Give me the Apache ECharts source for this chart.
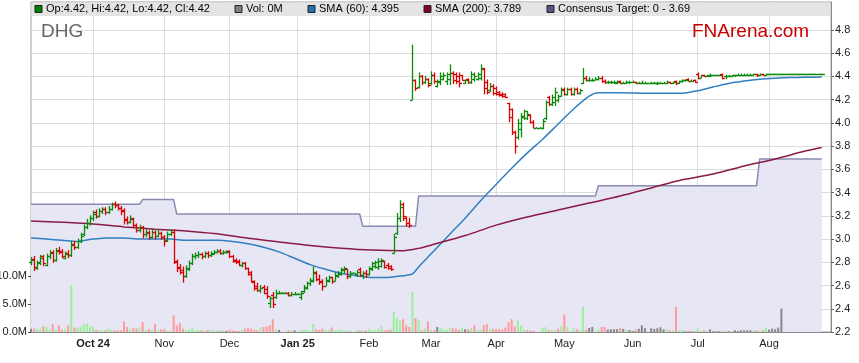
<!DOCTYPE html>
<html><head><meta charset="utf-8">
<script src="https://cdn.jsdelivr.net/npm/echarts@6/dist/echarts.min.js"></script>
<style>html,body{margin:0;padding:0;background:#fff}#c{width:859px;height:363px}</style>
</head><body><div id="c"></div>
<script>
// ---------- DATA ----------
const monthStarts = [20,43,64,86,109,129,150,172,194,215,238];
const monthLabels = ['Oct 24','Nov','Dec','Jan 25','Feb','Mar','Apr','May','Jun','Jul','Aug'];
const boldLabels = ['Oct 24','Jan 25'];
const priceTicks = [2.2,2.4,2.6,2.8,3.0,3.2,3.4,3.6,3.8,4.0,4.2,4.4,4.6,4.8];
const volumeTicks = [0,5,10];

const open = [
2.80,2.83,2.75,2.79,2.85,2.78,2.85,2.89,2.82,2.91,
2.90,2.84,2.88,2.86,2.96,2.93,2.98,3.04,3.10,3.14,
3.18,3.23,3.20,3.24,3.26,3.23,3.26,3.30,3.29,3.27,
3.25,3.17,3.15,3.17,3.12,3.08,3.10,3.04,3.06,3.02,
3.06,3.03,3.05,3.02,2.99,3.04,3.06,2.81,2.76,2.73,
2.68,2.74,2.79,2.85,2.86,2.87,2.85,2.88,2.86,2.88,
2.89,2.90,2.88,2.89,2.90,2.85,2.82,2.81,2.78,2.79,
2.75,2.72,2.63,2.60,2.56,2.59,2.57,2.45,2.52,2.50,
2.54,2.54,2.54,2.54,2.52,2.53,2.53,2.50,2.55,2.58,
2.62,2.64,2.71,2.66,2.64,2.60,2.64,2.67,2.64,2.68,
2.70,2.73,2.74,2.68,2.71,2.70,2.74,2.69,2.71,2.70,
2.74,2.77,2.76,2.77,2.81,2.78,2.77,2.88,3.05,3.18,
3.30,3.18,3.14,4.20,4.37,4.31,4.40,4.35,4.38,4.34,
4.41,4.32,4.35,4.38,4.36,4.38,4.43,4.42,4.40,4.41,
4.34,4.38,4.35,4.38,4.38,4.39,4.46,4.35,4.28,4.32,
4.30,4.27,4.25,4.25,4.17,4.12,3.92,3.88,3.95,4.05,
4.04,4.07,4.01,3.96,3.96,3.96,4.04,4.22,4.16,4.18,
4.20,4.23,4.29,4.25,4.29,4.25,4.29,4.26,4.34,4.39,
4.37,4.37,4.37,4.38,4.39,4.36,4.35,4.35,4.35,4.34,
4.36,4.34,4.34,4.35,4.35,4.35,4.34,4.34,4.34,4.34,
4.34,4.34,4.34,4.34,4.34,4.34,4.35,4.34,4.36,4.34,
4.36,4.37,4.38,4.36,4.37,4.42,4.39,4.41,4.40,4.40,
4.41,4.41,4.41,4.42,4.40,4.40,4.40,4.41,4.41,4.41,
4.41,4.41,4.41,4.41,4.42,4.41,4.42,4.41,4.42,4.42,
4.42,4.42,4.42,4.42,4.42,4.42,4.42,4.42,4.42,4.42,
4.42,4.42,4.42,4.42,4.42,4.42];
const high = [
2.84,2.85,2.81,2.86,2.86,2.87,2.90,2.90,2.92,2.93,
2.91,2.89,2.90,2.98,2.98,3.00,3.05,3.12,3.17,3.20,
3.24,3.25,3.26,3.27,3.27,3.28,3.31,3.32,3.30,3.28,
3.26,3.19,3.20,3.18,3.13,3.12,3.11,3.08,3.07,3.08,
3.07,3.07,3.06,3.03,3.06,3.08,3.08,2.82,2.78,2.76,
2.77,2.81,2.87,2.88,2.89,2.88,2.89,2.89,2.89,2.90,
2.91,2.91,2.90,2.90,2.90,2.86,2.83,2.82,2.80,2.80,
2.75,2.72,2.64,2.62,2.60,2.60,2.59,2.50,2.54,2.56,
2.55,2.54,2.54,2.54,2.54,2.54,2.53,2.55,2.60,2.63,
2.66,2.76,2.72,2.69,2.65,2.67,2.68,2.67,2.71,2.72,
2.75,2.76,2.74,2.72,2.71,2.73,2.75,2.72,2.73,2.76,
2.80,2.81,2.83,2.83,2.81,2.79,2.77,3.04,3.22,3.33,
3.31,3.19,3.18,4.67,4.37,4.43,4.41,4.40,4.38,4.44,
4.43,4.37,4.43,4.43,4.43,4.50,4.44,4.43,4.43,4.41,
4.37,4.38,4.44,4.43,4.43,4.50,4.47,4.37,4.34,4.33,
4.31,4.27,4.26,4.25,4.17,4.12,3.93,4.03,4.08,4.11,
4.10,4.07,4.02,3.96,3.96,4.03,4.19,4.23,4.24,4.30,
4.24,4.30,4.30,4.30,4.30,4.30,4.30,4.29,4.47,4.40,
4.39,4.38,4.39,4.40,4.40,4.37,4.36,4.36,4.36,4.36,
4.36,4.35,4.36,4.36,4.36,4.35,4.35,4.36,4.35,4.34,
4.35,4.35,4.35,4.35,4.35,4.36,4.35,4.35,4.36,4.36,
4.37,4.37,4.38,4.37,4.37,4.43,4.41,4.41,4.41,4.42,
4.41,4.41,4.41,4.42,4.41,4.41,4.41,4.41,4.42,4.42,
4.42,4.42,4.42,4.42,4.42,4.42,4.42,4.42,4.42,4.42,
4.42,4.42,4.42,4.42,4.42,4.42,4.42,4.42,4.42,4.42,
4.42,4.42,4.42,4.42,4.42,4.42];
const low = [
2.78,2.73,2.74,2.78,2.77,2.77,2.83,2.80,2.81,2.87,
2.84,2.83,2.84,2.85,2.91,2.92,2.97,3.03,3.09,3.12,
3.16,3.18,3.19,3.22,3.21,3.22,3.25,3.27,3.25,3.21,
3.13,3.13,3.14,3.10,3.06,3.06,3.01,3.02,3.00,3.01,
3.00,3.02,3.00,2.94,2.98,3.03,2.79,2.72,2.70,2.63,
2.67,2.73,2.78,2.83,2.84,2.83,2.84,2.84,2.85,2.87,
2.88,2.87,2.87,2.88,2.84,2.80,2.79,2.77,2.76,2.74,
2.69,2.63,2.56,2.55,2.54,2.53,2.49,2.41,2.41,2.49,
2.53,2.54,2.54,2.51,2.51,2.52,2.53,2.48,2.54,2.57,
2.60,2.63,2.64,2.61,2.56,2.60,2.63,2.62,2.64,2.67,
2.69,2.71,2.66,2.67,2.71,2.68,2.68,2.66,2.67,2.69,
2.73,2.75,2.74,2.76,2.75,2.74,2.73,2.88,3.04,3.15,
3.16,3.11,3.10,4.20,4.28,4.30,4.33,4.34,4.31,4.33,
4.34,4.31,4.33,4.37,4.33,4.33,4.34,4.34,4.31,4.37,
4.34,4.34,4.34,4.36,4.37,4.37,4.25,4.25,4.27,4.24,
4.24,4.23,4.22,4.22,4.01,3.90,3.74,3.86,3.88,4.03,
4.03,4.00,3.96,3.96,3.96,3.95,4.03,4.15,4.15,4.15,
4.18,4.23,4.24,4.24,4.24,4.24,4.25,4.25,4.34,4.36,
4.36,4.36,4.37,4.37,4.35,4.34,4.34,4.34,4.34,4.34,
4.34,4.34,4.34,4.34,4.35,4.34,4.34,4.34,4.34,4.34,
4.34,4.34,4.33,4.34,4.34,4.34,4.34,4.34,4.33,4.34,
4.35,4.36,4.36,4.36,4.35,4.38,4.39,4.40,4.40,4.40,
4.41,4.41,4.41,4.38,4.38,4.40,4.40,4.40,4.41,4.41,
4.41,4.41,4.41,4.41,4.40,4.41,4.41,4.41,4.42,4.42,
4.42,4.42,4.42,4.42,4.42,4.42,4.42,4.42,4.42,4.42,
4.42,4.42,4.42,4.42,4.42,4.42];
const close = [
2.82,2.76,2.80,2.84,2.79,2.85,2.88,2.82,2.90,2.89,
2.85,2.87,2.86,2.95,2.93,2.98,3.03,3.10,3.14,3.18,
3.22,3.20,3.24,3.26,3.23,3.26,3.30,3.29,3.27,3.24,
3.16,3.15,3.18,3.12,3.08,3.10,3.04,3.05,3.02,3.06,
3.03,3.05,3.02,2.98,3.04,3.06,2.80,2.75,2.72,2.68,
2.75,2.79,2.85,2.86,2.87,2.85,2.88,2.86,2.87,2.89,
2.90,2.88,2.89,2.89,2.85,2.81,2.80,2.78,2.79,2.75,
2.70,2.64,2.58,2.56,2.58,2.54,2.51,2.49,2.44,2.54,
2.54,2.54,2.54,2.52,2.53,2.53,2.53,2.54,2.59,2.62,
2.65,2.72,2.66,2.63,2.60,2.65,2.67,2.64,2.69,2.71,
2.74,2.75,2.68,2.71,2.71,2.72,2.69,2.71,2.70,2.75,
2.79,2.80,2.81,2.82,2.76,2.75,2.74,3.02,3.18,3.28,
3.20,3.14,3.12,4.37,4.30,4.40,4.35,4.38,4.33,4.41,
4.36,4.36,4.40,4.41,4.42,4.43,4.37,4.36,4.34,4.37,
4.37,4.35,4.42,4.40,4.42,4.47,4.30,4.27,4.32,4.26,
4.25,4.24,4.23,4.22,4.05,3.92,3.80,4.00,4.06,4.10,
4.08,4.01,3.96,3.96,3.96,4.02,4.18,4.16,4.22,4.27,
4.23,4.28,4.25,4.29,4.25,4.29,4.26,4.28,4.39,4.37,
4.37,4.37,4.38,4.39,4.36,4.35,4.35,4.35,4.35,4.35,
4.34,4.34,4.35,4.35,4.35,4.34,4.34,4.34,4.34,4.34,
4.34,4.34,4.34,4.34,4.34,4.35,4.34,4.35,4.34,4.36,
4.37,4.37,4.36,4.36,4.35,4.39,4.41,4.40,4.41,4.41,
4.41,4.41,4.41,4.39,4.40,4.40,4.41,4.41,4.41,4.41,
4.41,4.41,4.41,4.42,4.41,4.42,4.41,4.42,4.42,4.42,
4.42,4.42,4.42,4.42,4.42,4.42,4.42,4.42,4.42,4.42,
4.42,4.42,4.42,4.42,4.42,4.42];
// volume in millions
const volume = [
0.6,0.6,0.6,0.6,1.0,0.9,0.5,1.4,0.5,1.2,
0.4,0.6,1.2,8.4,0.8,0.7,0.9,1.4,1.5,1.0,
1.0,0.4,0.3,0.3,0.3,0.6,0.4,0.3,0.3,0.3,
1.9,0.9,0.5,0.7,0.6,0.8,1.8,0.3,0.5,0.5,
1.4,0.3,0.5,0.5,0.2,0.2,3.0,1.2,1.6,0.6,
0.3,0.4,0.8,0.3,0.3,0.3,0.3,0.4,0.3,0.3,
0.3,0.2,0.3,0.2,0.4,0.3,0.2,0.2,0.4,0.6,
0.8,0.6,0.4,0.3,0.8,0.9,1.0,1.2,2.3,0.5,
0.4,0,0,0.3,0.2,0.3,0,0.3,0.4,0.4,
0.2,1.4,0.5,0.4,0.6,0.4,0.4,0.8,0.3,0.4,
0.4,0.3,0.2,0.2,0,0.3,0.3,0.3,0.3,0.5,
0.3,0.3,0.6,1.0,0.3,0.4,0.4,3.7,2.5,2.1,
2.3,1.2,0.9,7.2,2.5,2.1,0.3,0.6,1.9,0.4,
0.3,0.9,0.7,0.5,0.5,0.7,0.7,0.6,0.4,0.8,
0.5,0.5,0.7,1.2,0.3,0.5,1.2,1.4,0.6,0.55,
0.55,0.55,0.4,0.8,1.8,2.3,1.0,2.1,1.2,0.5,
0.3,0.25,0.2,0,0,0.7,0.85,0.3,0.4,0.3,
0.55,1.0,3.2,0.9,0.13,0.67,0.5,0.3,4.6,0.43,
0.73,0.9,0.13,0.5,0.9,0.9,0.43,0.5,0.5,0.5,
0.73,0.55,0.37,0.37,0.19,0.5,0.6,1.2,0.67,0,
0.67,0.55,0.67,0.85,0.5,0.5,0.31,0.19,4.5,0.31,
0.31,0.13,0.19,0.13,0.13,0.67,0.19,0.31,0.19,0.5,
0.13,0.13,0.13,0.13,0.13,0.13,0.13,0.31,0.19,0.31,
0.31,0.31,0.31,0.31,0.31,0.19,0.31,0.8,0.43,0.6,
0.5,0.8,4.2,0,0,0,0,0,0,0,
0,0,0,0,0,0];
// moving averages read at sample days [dayIndex, value]
const sma60 = [[0,3.01],[5,3.00],[10,2.99],[15,2.98],[20,3.00],[25,3.01],[30,3.01],[35,3.00],[40,3.00],[45,3.00],[50,2.99],[55,2.99],[60,2.99],[65,2.98],[70,2.96],[75,2.93],[80,2.89],[85,2.835],[90,2.78],[95,2.74],[100,2.705],[105,2.685],[110,2.67],[115,2.67],[120,2.685],[123,2.70],[125,2.76],[130,2.90],[135,3.04],[140,3.18],[145,3.33],[150,3.47],[155,3.61],[160,3.74],[165,3.86],[170,3.99],[175,4.12],[180,4.23],[183,4.26],[190,4.26],[200,4.255],[210,4.255],[215,4.277],[220,4.31],[225,4.34],[230,4.36],[235,4.375],[240,4.384],[245,4.39],[250,4.393],[255,4.395]];
const sma200 = [[0,3.156],[10,3.145],[20,3.13],[30,3.105],[40,3.085],[50,3.07],[60,3.045],[70,3.007],[80,2.975],[90,2.945],[100,2.922],[110,2.906],[120,2.90],[125,2.92],[130,2.955],[140,3.03],[150,3.12],[160,3.19],[170,3.25],[180,3.31],[190,3.37],[200,3.44],[210,3.51],[220,3.56],[230,3.63],[240,3.69],[250,3.76],[255,3.789]];
const consensus = [[0,3.30],[35,3.30],[36,3.34],[46,3.34],[47,3.216],[106,3.216],[107,3.11],[124,3.11],[125,3.37],[182,3.37],[183,3.46],[234,3.46],[235,3.69],[255,3.69]];

// ---------- CATEGORIES (weekdays) ----------
const dates = [];
(function(){ let t = Date.UTC(2024,8,3); while (dates.length < 259) { const d = new Date(t); const w = d.getUTCDay(); if (w!==0 && w!==6) dates.push(d.toISOString().slice(0,10)); t += 86400000; } })();

const GREEN = '#0a8a0a', RED = '#dd0000';
const FONT = 'Liberation Sans, Arial, sans-serif';
const volColor = i => {
  const p = i > 0 ? close[i-1] : close[i];
  return close[i] > p ? '#9cf09c' : (close[i] < p ? '#ff9a9a' : '#888888');
};
const isMonthStart = (idx) => monthStarts.indexOf(idx) >= 0;

const chart = echarts.init(document.getElementById('c'), null, {renderer:'canvas'});

function legendItem(x, color, text) {
  return [
    {type:'rect', shape:{x:x, y:5.5, width:7, height:7}, style:{fill:color, stroke:'#222', lineWidth:1}, z:101},
    {type:'text', x:x+11, y:9, style:{text:text, font:'11px '+FONT, fill:'#000', textVerticalAlign:'middle'}, z:101}
  ];
}

chart.setOption({
  animation:false,
  backgroundColor:'#fff',
  textStyle:{fontFamily:FONT},
  grid:{left:31, right:28, top:2, bottom:31, outerBoundsMode:'none', containLabel:false, show:true, backgroundColor:'#fff', borderColor:'#a0a0a0', borderWidth:1},
  xAxis:{
    type:'category', data:dates, boundaryGap:false,
    axisLine:{lineStyle:{color:'#888'}},
    axisTick:{show:false},
    splitLine:{show:true, interval:(i)=>isMonthStart(i), lineStyle:{color:'#dcdcdc', width:1}},
    axisLabel:{
      interval:(i)=>isMonthStart(i), margin:6, fontSize:11, color:'#222',
      formatter:(v, idx)=>{ const k = monthStarts.indexOf(idx); if (k<0) return ''; const s = monthLabels[k]; return boldLabels.indexOf(s)>=0 ? '{b|'+s+'}' : s; },
      rich:{b:{fontWeight:'bold', fontSize:11, color:'#222'}}
    }
  },
  yAxis:[
    {type:'value', position:'right', min:2.2, max:5.041, interval:0.2,
     axisLine:{show:true, lineStyle:{color:'#888'}},
     axisTick:{show:true, length:3, lineStyle:{color:'#666'}, customValues:priceTicks},
     axisLabel:{fontSize:11, color:'#222', margin:4, customValues:priceTicks, formatter:v=>v.toFixed(1)},
     splitLine:{show:true, lineStyle:{color:'#dcdcdc', width:1}}},
    {type:'value', position:'left', min:0, max:59.4, interval:5,
     axisLine:{show:false},
     axisTick:{show:true, length:3, lineStyle:{color:'#444'}, customValues:volumeTicks},
     axisLabel:{fontSize:11, color:'#222', margin:4, customValues:volumeTicks, formatter:v=>v.toFixed(1)+'M'},
     splitLine:{show:false}}
  ],
  series:[
    {type:'line', name:'Consensus', data:consensus, symbol:'none', z:1,
     lineStyle:{color:'#8a8ab4', width:1.5}, areaStyle:{color:'#e6e6f5', opacity:1, origin:'start'}},
    {type:'bar', name:'Vol', yAxisIndex:1, barWidth:2, z:2,
     data:volume.map((v,i)=>({value:v, itemStyle:{color:volColor(i)}}))},
    {type:'line', name:'SMA60', data:sma60, symbol:'none', smooth:0.3, z:3, lineStyle:{color:'#2f7fc1', width:1.5}},
    {type:'line', name:'SMA200', data:sma200, symbol:'none', smooth:0.3, z:3, lineStyle:{color:'#8b1a44', width:1.5}},
    {type:'custom', name:'Price', z:5,
     encode:{x:0, y:[1,2,3,4]},
     data:close.map((c,i)=>[i, open[i], high[i], low[i], c]),
     renderItem:(params, api)=>{
       const i = api.value(0), o = api.value(1), h = api.value(2), l = api.value(3), c = api.value(4);
       const pH = api.coord([i,h]);
       const x = Math.round(pH[0]) + 0.5;
       const yH = pH[1], yL = api.coord([i,l])[1];
       const yO = Math.round(api.coord([i,o])[1]) + 0.5, yC = Math.round(api.coord([i,c])[1]) + 0.5;
       const col = c >= o ? GREEN : RED;
       const st = {stroke:col, lineWidth:1.3};
       return {type:'group', children:[
         {type:'line', shape:{x1:x, y1:yH-0.5, x2:x, y2:yL+0.5}, style:st},
         {type:'line', shape:{x1:x-2.5, y1:yO, x2:x, y2:yO}, style:st},
         {type:'line', shape:{x1:x, y1:yC, x2:x+2.5, y2:yC}, style:st}
       ]};
     }}
  ],
  graphic:[
    {type:'rect', shape:{x:31.5, y:2.5, width:799, height:13.5}, style:{fill:'#e4e4e4', stroke:null}, z:100},
    ...legendItem(35, '#008000', 'Op:4.42, Hi:4.42, Lo:4.42, Cl:4.42'),
    ...legendItem(235, '#808080', 'Vol: 0M'),
    ...legendItem(308, '#1f6fb5', 'SMA (60): 4.395'),
    ...legendItem(424, '#800030', 'SMA (200): 3.789'),
    ...legendItem(547, '#55558a', 'Consensus Target: 0 - 3.69'),
    {type:'text', x:41, y:32, style:{text:'DHG', font:'19px '+FONT, fill:'#666', textVerticalAlign:'middle'}, z:101},
    {type:'text', x:692, y:32, style:{text:'FNArena.com', font:'19px '+FONT, fill:'#c80000', textVerticalAlign:'middle'}, z:101}
  ]
});
</script></body></html>
